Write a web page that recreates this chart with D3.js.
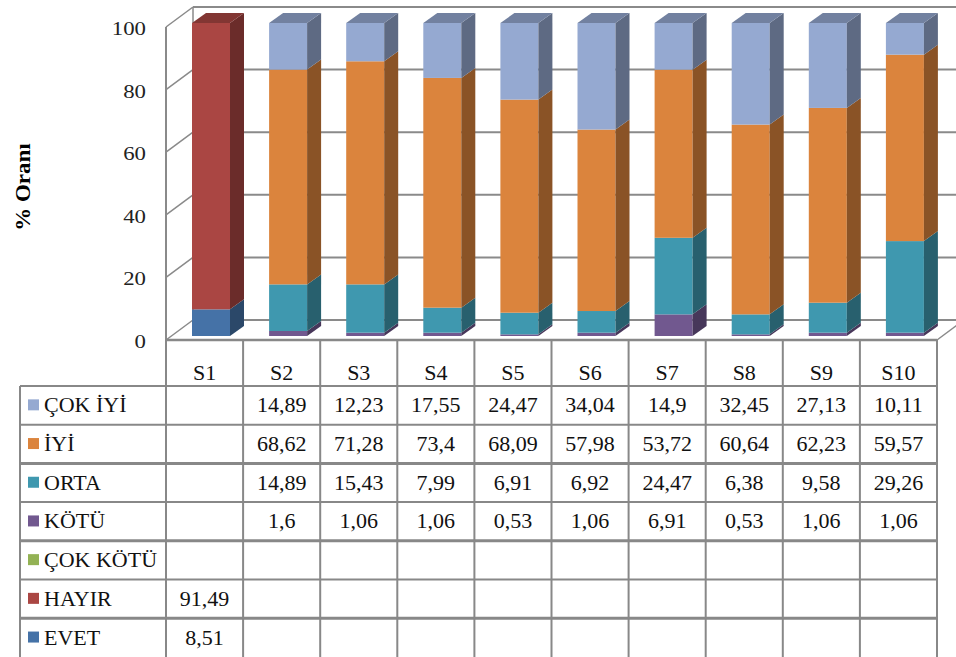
<!DOCTYPE html>
<html>
<head>
<meta charset="utf-8">
<script src="https://cdn.jsdelivr.net/npm/d3@7"></script>
<style>
  html, body { margin: 0; padding: 0; background: #fff; }
  svg { display: block; }
</style>
</head>
<body>
<svg id="chart" width="956" height="657" font-family="'Liberation Serif', 'DejaVu Serif', 'Times New Roman', Times, serif"></svg>
<script>
// Survey answers per question, % share
const categories = ["S1", "S2", "S3", "S4", "S5", "S6", "S7", "S8", "S9", "S10"];
const seriesNames = ["ÇOK İYİ", "İYİ", "ORTA", "KÖTÜ", "ÇOK KÖTÜ", "HAYIR", "EVET"];
const cokIyi  = [null, 14.89, 12.23, 17.55, 24.47, 34.04, 14.9, 32.45, 27.13, 10.11];
const iyi     = [null, 68.62, 71.28, 73.4, 68.09, 57.98, 53.72, 60.64, 62.23, 59.57];
const orta    = [null, 14.89, 15.43, 7.99, 6.91, 6.92, 24.47, 6.38, 9.58, 29.26];
const kotu    = [null, 1.6, 1.06, 1.06, 0.53, 1.06, 6.91, 0.53, 1.06, 1.06];
const cokKotu = [null, null, null, null, null, null, null, null, null, null];
const hayir   = [91.49, null, null, null, null, null, null, null, null, null];
const evet    = [8.51, null, null, null, null, null, null, null, null, null];
const yTicks  = [0, 20, 40, 60, 80, 100];
const yTitle  = "% Oranı";

const seriesValues = [cokIyi, iyi, orta, kotu, cokKotu, hayir, evet];
const colors = ["#95A9D1", "#DB843D", "#3F98AF", "#71588F", "#93B254", "#AA4643", "#4572A7"];

// rows for d3.stack, one per category
const rows = categories.map((c, i) => {
  const r = { cat: c };
  seriesNames.forEach((s, j) => { r[s] = seriesValues[j][i] || 0; });
  return r;
});
// stack from the bottom: EVET, HAYIR, ..., ÇOK İYİ on top
const stackKeys = seriesNames.slice().reverse();
const stacked = d3.stack().keys(stackKeys)(rows);

const svg = d3.select("#chart");
const FONT = "'Liberation Serif', 'DejaVu Serif', 'Times New Roman', Times, serif";

// layout
const left = 166, right = 937;
const floorY = 340;
const depthX = 27, depthY = 20;   // full floor depth
const barOffY = 4;                // bar front position in depth
const barDX = 14, barDY = 10;     // bar depth
const barW = 38;

const x = d3.scaleBand().domain(categories).range([left, right]).padding(0);
const y = d3.scaleLinear().domain([0, 100]).range([floorY, floorY - 313]);

const gridColor = "#8a8a8a";

// walls
const walls = svg.append("g");
// back wall gridlines
walls.selectAll("line.grid").data(yTicks).join("line")
  .attr("x1", left + depthX).attr("x2", right + depthX)
  .attr("y1", d => y(d) - depthY).attr("y2", d => y(d) - depthY)
  .attr("stroke", gridColor).attr("stroke-width", 2);
// left wall gridlines
walls.selectAll("line.side").data(yTicks).join("line")
  .attr("x1", left).attr("x2", left + depthX)
  .attr("y1", d => y(d)).attr("y2", d => y(d) - depthY)
  .attr("stroke", gridColor).attr("stroke-width", 1.5);
// left wall edges
walls.append("line").attr("x1", left).attr("x2", left)
  .attr("y1", y(100)).attr("y2", y(0))
  .attr("stroke", gridColor).attr("stroke-width", 2);
walls.append("line").attr("x1", left + depthX).attr("x2", left + depthX)
  .attr("y1", y(100) - depthY).attr("y2", y(0) - depthY)
  .attr("stroke", gridColor).attr("stroke-width", 1.5);
// floor right edge
walls.append("line").attr("x1", right).attr("x2", right + depthX)
  .attr("y1", y(0)).attr("y2", y(0) - depthY)
  .attr("stroke", gridColor).attr("stroke-width", 1.5);

// y axis labels
svg.append("g").selectAll("text").data(yTicks).join("text")
  .attr("transform", d => `translate(146,${y(d) + 8}) scale(1.2,1)`)
  .attr("text-anchor", "end")
  .attr("font-family", FONT)
  .attr("font-size", 19).attr("fill", "#222")
  .text(d => d);

// y axis title
svg.append("text")
  .attr("transform", "translate(30,187) rotate(-90) scale(1.15,1)")
  .attr("text-anchor", "middle")
  .attr("font-family", FONT)
  .attr("font-size", 20).attr("font-weight", "bold").attr("fill", "#000")
  .text(yTitle);

// 3D stacked bars
const shade = (c, k) => d3.color(c).darker(k).formatHex();
const bars = svg.append("g");
stacked.forEach(layer => {
  const sIdx = seriesNames.indexOf(layer.key);
  const col = colors[sIdx];
  layer.forEach((seg, i) => {
    const v = seg[1] - seg[0];
    if (v <= 0) return;
    const cat = categories[i];
    const x0 = x(cat) + 26;
    const yb = y(seg[0]) - barOffY;
    const yt = y(seg[1]) - barOffY;
    // front face
    bars.append("rect").attr("x", x0).attr("y", yt)
      .attr("width", barW).attr("height", yb - yt).attr("fill", col);
    // side face
    bars.append("path")
      .attr("d", `M${x0 + barW},${yb}L${x0 + barW + barDX},${yb - barDY}L${x0 + barW + barDX},${yt - barDY}L${x0 + barW},${yt}Z`)
      .attr("fill", shade(col, 1.3));
    // top face only on the top segment of the column
    const isTop = stacked.every(l => l === layer || (l[i][1] - l[i][0]) <= 0 || l[i][1] <= seg[1]);
    if (isTop) {
      bars.append("path")
        .attr("d", `M${x0},${yt}L${x0 + barW},${yt}L${x0 + barW + barDX},${yt - barDY}L${x0 + barDX},${yt - barDY}Z`)
        .attr("fill", shade(col, 0.75));
    }
  });
});

// data table
const tableTop = floorY;
const headerBottom = 386;
const rowH = 38.7;
const tableLeft = 20;
const tableBottom = 657;
const lineColor = "#888";
const table = svg.append("g").attr("font-family", FONT);

const rowY = i => headerBottom + i * rowH;

// horizontal lines
table.append("line").attr("x1", left).attr("x2", right)
  .attr("y1", tableTop).attr("y2", tableTop)
  .attr("stroke", lineColor).attr("stroke-width", 2.5);
d3.range(seriesNames.length).forEach(i => {
  table.append("line").attr("x1", tableLeft).attr("x2", right)
    .attr("y1", rowY(i)).attr("y2", rowY(i))
    .attr("stroke", lineColor).attr("stroke-width", (i % 2 === 0 && i > 0) ? 3 : 2);
});
// vertical lines
table.append("line").attr("x1", tableLeft).attr("x2", tableLeft)
  .attr("y1", headerBottom).attr("y2", tableBottom)
  .attr("stroke", lineColor).attr("stroke-width", 2);
categories.concat(["_end"]).forEach((c, i) => {
  const xx = i < categories.length ? x(c) : right;
  table.append("line").attr("x1", xx).attr("x2", xx)
    .attr("y1", tableTop).attr("y2", tableBottom)
    .attr("stroke", lineColor).attr("stroke-width", 2);
});

// header labels
table.selectAll("text.hdr").data(categories).join("text")
  .attr("transform", d => `translate(${x(d) + x.bandwidth() / 2},380) scale(1.1,1)`)
  .attr("text-anchor", "middle").attr("font-size", 20).attr("fill", "#111")
  .text(d => d);

// legend keys and names
seriesNames.forEach((s, j) => {
  const cy = rowY(j) + rowH / 2;
  table.append("rect").attr("x", 28).attr("y", cy - 6).attr("width", 11).attr("height", 11)
    .attr("fill", colors[j]);
  table.append("text")
    .attr("transform", `translate(44,${cy + 7}) scale(1.1,1)`)
    .attr("font-size", 20).attr("fill", "#111")
    .text(s);
  // values
  categories.forEach((c, i) => {
    const v = seriesValues[j][i];
    if (v == null) return;
    table.append("text")
      .attr("transform", `translate(${x(c) + x.bandwidth() / 2},${cy + 7}) scale(1.1,1)`)
      .attr("text-anchor", "middle").attr("font-size", 20).attr("fill", "#111")
      .text(String(v).replace(".", ","));
  });
});
</script>
</body>
</html>
